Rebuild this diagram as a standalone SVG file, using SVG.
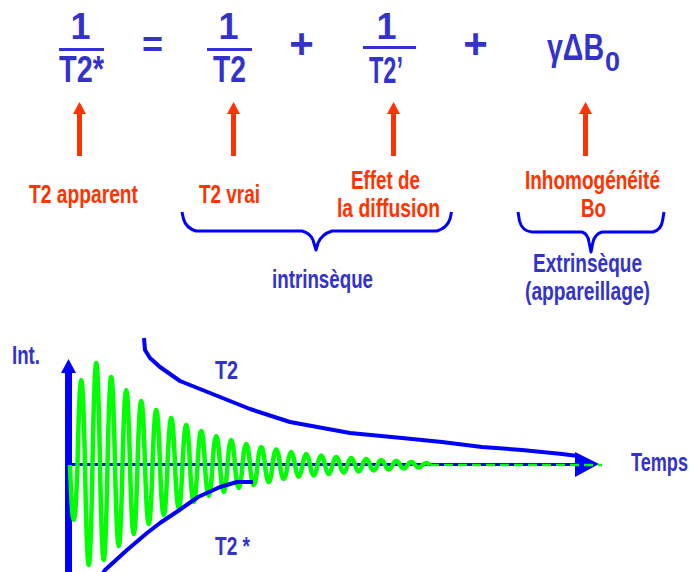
<svg xmlns="http://www.w3.org/2000/svg" xmlns:xlink="http://www.w3.org/1999/xlink" width="690" height="572" viewBox="0 0 690 572">
<style>
text{font-family:"Liberation Sans",Arial,sans-serif;font-weight:bold}
.eq{fill:#3333cc;font-size:36px}
.red{fill:#ff3300;font-size:26px}
.blu{fill:#3333cc;font-size:26px}
.bar{fill:#3333cc}
.brace{fill:none;stroke:#0000ff;stroke-width:3;stroke-linejoin:round;stroke-linecap:butt}
.curve{fill:none;stroke:#0000ff;stroke-width:4;stroke-linejoin:round}
</style>
<defs>
<path id="ua" d="M0,0 L6.5,12 L2.5,12 L2.5,54 L-2.5,54 L-2.5,12 L-6.5,12 Z" fill="#ff3300"/>
</defs>
<rect width="690" height="572" fill="#ffffff"/>

<g id="term-t2star">
<text class="eq" x="80.5" y="39" text-anchor="middle">1</text>
<rect class="bar" x="59" y="48" width="45" height="3"/>
<text class="eq" x="59" y="82" textLength="45" lengthAdjust="spacingAndGlyphs">T2*</text>
</g>
<g id="op-equals"><text class="eq" x="152.5" y="57" text-anchor="middle">=</text></g>
<g id="term-t2">
<text class="eq" x="228.5" y="39" text-anchor="middle">1</text>
<rect class="bar" x="207" y="48" width="45" height="3"/>
<text class="eq" x="213" y="82" textLength="33" lengthAdjust="spacingAndGlyphs">T2</text>
</g>
<g id="op-plus1"><text class="eq" x="301.5" y="57.5" text-anchor="middle" style="font-size:42px">+</text></g>
<g id="term-t2prime">
<text class="eq" x="386.5" y="39" text-anchor="middle">1</text>
<rect class="bar" x="363" y="46" width="53" height="3"/>
<text class="eq" x="369" y="83" textLength="34" lengthAdjust="spacingAndGlyphs">T2’</text>
</g>
<g id="op-plus2"><text class="eq" x="475.5" y="57.5" text-anchor="middle" style="font-size:42px">+</text></g>
<g id="term-gammadb0">
<text class="eq"><tspan x="547" y="60" textLength="57" lengthAdjust="spacingAndGlyphs">γΔB</tspan><tspan x="605" y="71" style="font-size:27px">0</tspan></text>
</g>

<g id="label-t2-apparent"><text class="red" x="29" y="203" textLength="109" lengthAdjust="spacingAndGlyphs">T2 apparent</text></g>
<g id="label-t2-vrai"><text class="red" x="199" y="203" textLength="61" lengthAdjust="spacingAndGlyphs">T2 vrai</text></g>
<g id="label-diffusion">
<text class="red" x="351" y="189" textLength="69" lengthAdjust="spacingAndGlyphs">Effet de</text>
<text class="red" x="337" y="217" textLength="103" lengthAdjust="spacingAndGlyphs">la diffusion</text>
</g>
<g id="label-inhomogeneite">
<text class="red" x="525" y="189" textLength="135" lengthAdjust="spacingAndGlyphs">Inhomogénéité</text>
<text class="red" x="581" y="217" textLength="25" lengthAdjust="spacingAndGlyphs">Bo</text>
</g>
<g id="label-intrinseque"><text class="blu" x="272" y="288" textLength="101" lengthAdjust="spacingAndGlyphs">intrinsèque</text></g>
<g id="label-extrinseque">
<text class="blu" x="533" y="272" textLength="109" lengthAdjust="spacingAndGlyphs">Extrinsèque</text>
<text class="blu" x="525" y="300" textLength="125" lengthAdjust="spacingAndGlyphs">(appareillage)</text>
</g>

<g id="connectors">
<use xlink:href="#ua" x="79.5" y="102"/>
<use xlink:href="#ua" x="233.5" y="102"/>
<use xlink:href="#ua" x="393.5" y="102"/>
<use xlink:href="#ua" x="585.5" y="102"/>
<path class="brace" d="M182,212 L183.5,219 Q186,228 196,231 L302,231 Q310,233 313,240 L316,250 L318,243 Q322,234 332,231 L437,231 Q447,228 450,219 L451.5,212"/>
<path class="brace" d="M518,212 L519.5,221 Q522,231 532,232 L582,232 Q588,234 589,242 L591,252 L593,242 Q595,234 602,232 L653,232 Q661,230 662.5,221 L664,212"/>
</g>

<g id="graph">
<rect x="65" y="371" width="7" height="201" fill="#0000ff"/>
<polygon points="68.5,359 76,373 61,373" fill="#0000ff"/>
<line x1="68" y1="464.5" x2="578" y2="464.5" stroke="#0000ff" stroke-width="3"/>
<polygon points="575,452 599,464 575,477" fill="#0000ff"/>
<path d="M70,465 Q73.75,575 77.5,465 Q81.25,295 85,465 Q88.75,665 92.5,465 Q96.25,261 100,465 Q103.75,655 107.5,465 Q111.25,289 115,465 Q118.75,627 122.5,465 Q126.25,315 130,465 Q133.75,603 137.5,465 Q141.25,337 145,465 Q148.75,583 152.5,465 Q156.25,355 160,465 Q163.75,565 167.5,465 Q171.25,371 175,465 Q178.75,551 182.5,465 Q186.25,385 190,465 Q193.75,539 197.5,465 Q201.25,397 205,465 Q208.75,527 212.5,465 Q216.25,407 220,465 Q223.75,519 227.5,465 Q231.25,415 235,465 Q238.75,511 242.5,465 Q246.25,423 250,465 Q253.75,505 257.5,465 Q261.25,429 265,465 Q268.75,499 272.5,465 Q276.25,434 280,465 Q283.75,493 287.5,465 Q291.25,439 295,465 Q298.75,489 302.5,465 Q306.25,443 310,465 Q313.75,486 317.5,465 Q321.25,446 325,465 Q328.75,483 332.5,465 Q336.25,449 340,465 Q343.75,480 347.5,465 Q351.25,451 355,465 Q358.75,478 362.5,465 Q366.25,453 370,465 Q373.75,476 377.5,465 Q381.25,455 385,465 Q388.75,474 392.5,465 Q396.25,457 400,465 Q403.75,472 407.5,465 Q411.25,459 415,465 Q418.75,470 422.5,465 Q426.25,461 430,465" fill="none" stroke="#00ff00" stroke-width="4.5" stroke-linejoin="round"/>
<line x1="430" y1="465" x2="602" y2="465" stroke="#00ff00" stroke-width="2.5" stroke-dasharray="9,5"/>
<polyline class="curve" points="144,338 145,350 150,358 160,367 180,381 210,393 250,409 290,422 350,433 402,438 442,442 482,447 522,450 562,454 578,456"/>
<polyline class="curve" points="103,573 105,570 127,550 147,533 160,523 178,511 198,497 220,487 237,482 253,482"/>
</g>

<g id="label-int"><text class="blu" x="12" y="364" textLength="28" lengthAdjust="spacingAndGlyphs">Int.</text></g>
<g id="label-t2-curve"><text class="blu" x="215" y="379" textLength="23" lengthAdjust="spacingAndGlyphs">T2</text></g>
<g id="label-t2star-curve"><text class="blu" x="215" y="555" textLength="35" lengthAdjust="spacingAndGlyphs">T2 *</text></g>
<g id="label-temps"><text class="blu" x="631" y="471" textLength="57" lengthAdjust="spacingAndGlyphs">Temps</text></g>
</svg>
